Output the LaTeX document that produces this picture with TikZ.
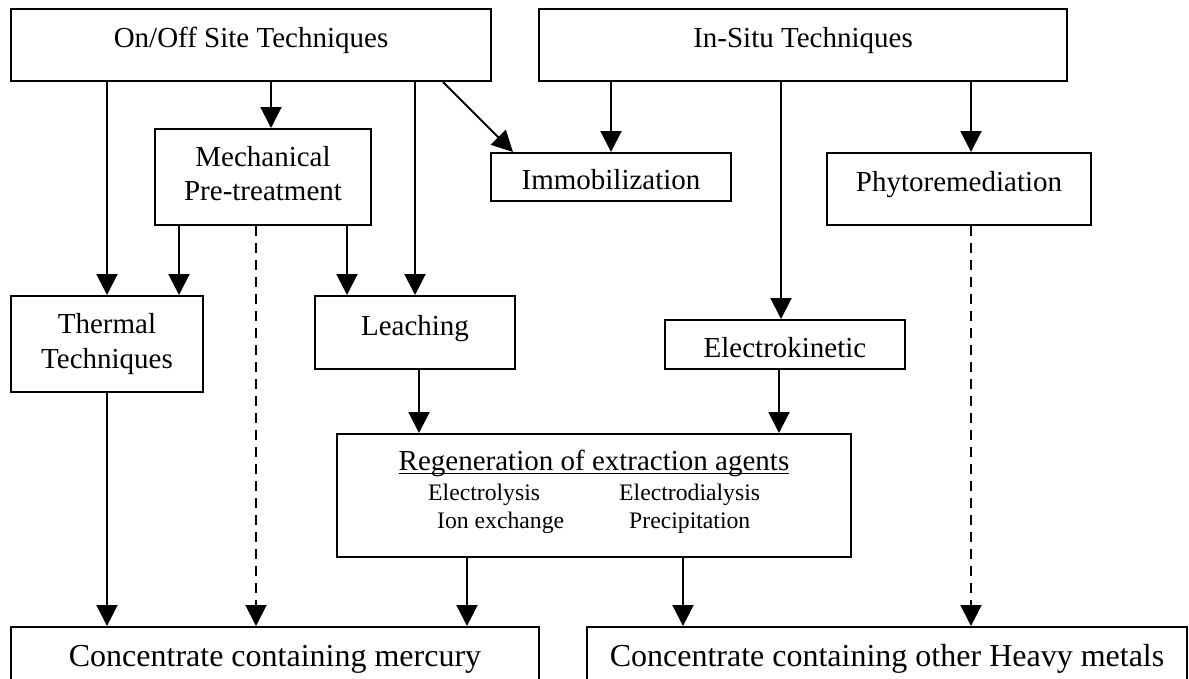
\documentclass[tikz,border=0pt]{standalone}
\usepackage{fontspec}
\setmainfont{Liberation Serif}
\usetikzlibrary{arrows.meta}
\tikzset{
  box/.style={draw, line width=2pt, rectangle, inner sep=0pt},
  txt/.style={inner sep=0pt, anchor=base, font=\fontsize{29}{34}\selectfont},
  smalltxt/.style={inner sep=0pt, anchor=base west, font=\fontsize{23.7}{28}\selectfont},
  bigtxt/.style={inner sep=0pt, anchor=base, font=\fontsize{32}{38}\selectfont},
  arr/.style={line width=2pt, -{Triangle[length=21pt,width=21pt]}},
  darr/.style={arr, dash pattern=on 10pt off 7pt},
}
\begin{document}
\begin{tikzpicture}[x=1pt, y=-1pt]
\useasboundingbox (0,0) rectangle (1189,678);
\clip (0,0) rectangle (1189,678);
% boxes
\node[box, minimum width=480pt, minimum height=72pt] (onoff) at (251,45) {};
\node[box, minimum width=528pt, minimum height=72pt] (insitu) at (803,45) {};
\node[box, minimum width=216pt, minimum height=96pt] (mech) at (263,177) {};
\node[box, minimum width=240pt, minimum height=48pt] (immob) at (611,177) {};
\node[box, minimum width=264pt, minimum height=72pt] (phyto) at (959,189) {};
\node[box, minimum width=192pt, minimum height=96pt] (thermal) at (107,344) {};
\node[box, minimum width=200pt, minimum height=73pt] (leach) at (415,332.5) {};
\node[box, minimum width=240pt, minimum height=49pt] (electro) at (785,344.5) {};
\node[box, minimum width=514pt, minimum height=123pt] (regen) at (594,495.5) {};
\node[box, minimum width=528pt, minimum height=72pt] (mercury) at (275,663) {};
\node[box, minimum width=600pt, minimum height=72pt] (other) at (887,663) {};
% texts
\node[txt] (tonoff) at (251,47) {On/Off Site Techniques};
\node[txt] (tinsitu) at (803,47) {In-Situ Techniques};
\node[txt] (tmech1) at (263,166) {Mechanical};
\node[txt] (tmech2) at (263,200) {Pre-treatment};
\node[txt] (timmob) at (611,189) {Immobilization};
\node[txt] (tphyto) at (959,191) {Phytoremediation};
\node[txt] (ttherm1) at (107,333) {Thermal};
\node[txt] (ttherm2) at (107,368) {Techniques};
\node[txt] (tleach) at (415,335) {Leaching};
\node[txt] (telectro) at (785,357) {Electrokinetic};
\node[txt] (tregen) at (594,470) {Regeneration of extraction agents};
\draw[line width=1.5pt] ([yshift=-3.5pt]tregen.base west) -- ([yshift=-3.5pt]tregen.base east);
\node[smalltxt] (tel1) at (428,500) {Electrolysis};
\node[smalltxt] (tel2) at (619,500) {Electrodialysis};
\node[smalltxt] (tion) at (437,528) {Ion exchange};
\node[smalltxt] (tprec) at (629,528) {Precipitation};
\node[bigtxt] (tmerc) at (275,666) {Concentrate containing mercury};
\node[bigtxt] (toth) at (887,666) {Concentrate containing other Heavy metals};
% connectors
\draw[arr] (onoff.south -| 107,0) -- (thermal.north -| 107,0);
\draw[arr] (onoff.south -| 271,0) -- (mech.north -| 271,0);
\draw[arr] (onoff.south -| 415,0) -- (leach.north -| 415,0);
\draw[arr] (onoff.south -| 443,0) -- (immob.north -| 513,0);
\draw[arr] (insitu.south -| 611,0) -- (immob.north -| 611,0);
\draw[arr] (insitu.south -| 781,0) -- (electro.north -| 781,0);
\draw[arr] (insitu.south -| 971,0) -- (phyto.north -| 971,0);
\draw[arr] (mech.south -| 179,0) -- (thermal.north -| 179,0);
\draw[darr] (mech.south -| 256,0) -- (mercury.north -| 256,0);
\draw[arr] (mech.south -| 347,0) -- (leach.north -| 347,0);
\draw[arr] (thermal.south -| 107,0) -- (mercury.north -| 107,0);
\draw[arr] (leach.south -| 419,0) -- (regen.north -| 419,0);
\draw[arr] (electro.south -| 779,0) -- (regen.north -| 779,0);
\draw[arr] (regen.south -| 467,0) -- (mercury.north -| 467,0);
\draw[arr] (regen.south -| 683,0) -- (other.north -| 683,0);
\draw[darr] (phyto.south -| 971,0) -- (other.north -| 971,0);
\end{tikzpicture}
\end{document}
